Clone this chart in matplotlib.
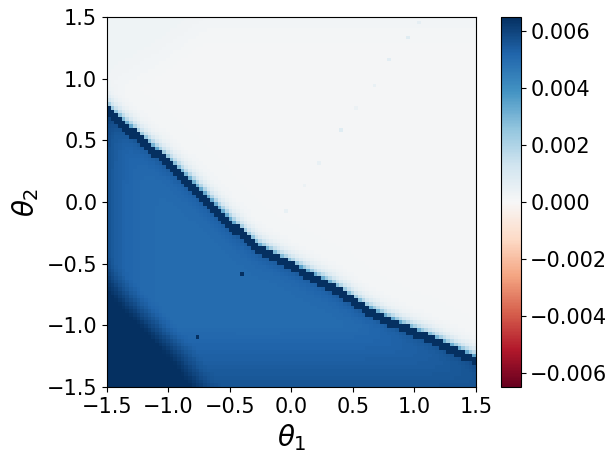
import numpy as np
import matplotlib
matplotlib.use("Agg")
import matplotlib.pyplot as plt

# grid of the map (100 x 100 cells on [-1.5, 1.5]^2)
n_cells = 100
lim = 1.5

# centre line of the dark ridge
ridge_t1 = [-1.5, -1.25, -1.0, -0.75, -0.59, -0.48, -0.27, -0.04, 0.07, 0.34, 0.61, 0.9, 1.15, 1.5]
ridge_t2 = [0.74, 0.52, 0.31, 0.07, -0.09, -0.20, -0.38, -0.50, -0.56, -0.70, -0.88, -1.02, -1.12, -1.29]

# edge of the saturated patch in the lower left corner (runs a little past the frame)
corner_t1 = [-1.7, -1.5, -1.25, -1.05, -0.96, -0.86]
corner_t2 = [-0.68, -0.88, -1.13, -1.36, -1.5, -1.65]
corner_fade = 0.34

# edge of the faint bluish patch in the upper left corner
tint_t1 = [-1.5, -1.1, -0.69]
tint_t2 = [0.96, 1.2, 1.5]

# levels of the field
ridge_level = 0.0068
halo_level = 0.0035
upper_level = 0.0001
tint_level = 0.0003
mid_level = 0.0050
corner_level = 0.0068
bottom_level = 0.0056
edge_extra = 0.0007

# isolated cells
spot_t1 = [-0.416, -0.774]
spot_t2 = [-0.593, -1.10]
spot_val = [0.0068, 0.0068]

dot_t1 = [-0.06, 0.10, 0.22, 0.39, 0.52, 0.66, 0.80, 0.93, 1.03]
dot_t2 = [-0.08, 0.14, 0.31, 0.58, 0.76, 0.95, 1.15, 1.33, 1.46]
dot_val = [0.0005, 0.0004, 0.0005, 0.0008, 0.0004, 0.0005, 0.0007, 0.0008, 0.0006]


def dist_to_line(px, py, xs, ys):
    best = np.full(px.shape, np.inf)
    for k in range(len(xs) - 1):
        ax_, ay_ = xs[k], ys[k]
        dx, dy = xs[k + 1] - ax_, ys[k + 1] - ay_
        u = np.clip(((px - ax_) * dx + (py - ay_) * dy) / (dx * dx + dy * dy), 0, 1)
        best = np.minimum(best, np.hypot(px - ax_ - u * dx, py - ay_ - u * dy))
    return best


step = 2 * lim / n_cells
t = np.linspace(-lim + step / 2, lim - step / 2, n_cells)
T1, T2 = np.meshgrid(t, t)

# signed distance to the ridge (positive above it)
rb = np.interp(T1, ridge_t1, ridge_t2)
slopes = np.diff(ridge_t2) / np.diff(ridge_t1)
mids = (np.array(ridge_t1[:-1]) + np.array(ridge_t1[1:])) / 2
s = np.interp(T1, mids, slopes)
d = (T2 - rb) / np.sqrt(1 + s ** 2)
hw = 0.033

Z = np.full(T1.shape, ridge_level)

# above the ridge
up = d > hw
tb = np.interp(T1, tint_t1, tint_t2)
base = upper_level + (tint_level - upper_level) * np.clip((T2 - tb) / 0.4 + 0.5, 0, 1)
Z[up] = (base + (halo_level - base) * np.exp(-(d - hw) / 0.037))[up]

# below the ridge
lo = d < -hw
inside = T2 < np.interp(T1, corner_t1, corner_t2, right=-5.0)
gap = np.clip(dist_to_line(T1, T2, corner_t1, corner_t2) / corner_fade, 0, 1)
gap[inside] = 0
w_corner = 1 - gap * gap * (3 - 2 * gap)
w_bottom = np.clip((-1.0 - T2) / 0.5, 0, 1)
val = mid_level + (bottom_level - mid_level) * w_bottom
val = val + 0.0004 * np.exp((d + hw) / 0.06)
val = val + edge_extra * np.exp(-(T1 + lim) / 0.12)
val = val + (corner_level - val) * w_corner
Z[lo] = val[lo]

for x, y, v in zip(spot_t1 + dot_t1, spot_t2 + dot_t2, spot_val + dot_val):
    i = int((y + lim) / step)
    j = int((x + lim) / step)
    Z[i, j] = v

fig = plt.figure(figsize=(6.16, 4.63), dpi=100)
ax = fig.add_axes([0.1737, 0.164, 0.599, 0.799])
cax = fig.add_axes([0.8141, 0.164, 0.031, 0.799])

im = ax.imshow(Z, origin="lower", extent=[-lim, lim, -lim, lim],
               cmap="RdBu", vmin=-0.0065, vmax=0.0065, aspect="auto",
               interpolation="nearest")
ax.set_xticks([-1.5, -1.0, -0.5, 0.0, 0.5, 1.0, 1.5])
ax.set_yticks([-1.5, -1.0, -0.5, 0.0, 0.5, 1.0, 1.5])
ax.tick_params(labelsize=15)
ax.set_xlabel(r"$\theta_1$", fontsize=20)
ax.set_ylabel(r"$\theta_2$", fontsize=20)

cb_ = fig.colorbar(im, cax=cax)
cb_.ax.tick_params(labelsize=15)

fig.savefig("out.png", dpi=100)
